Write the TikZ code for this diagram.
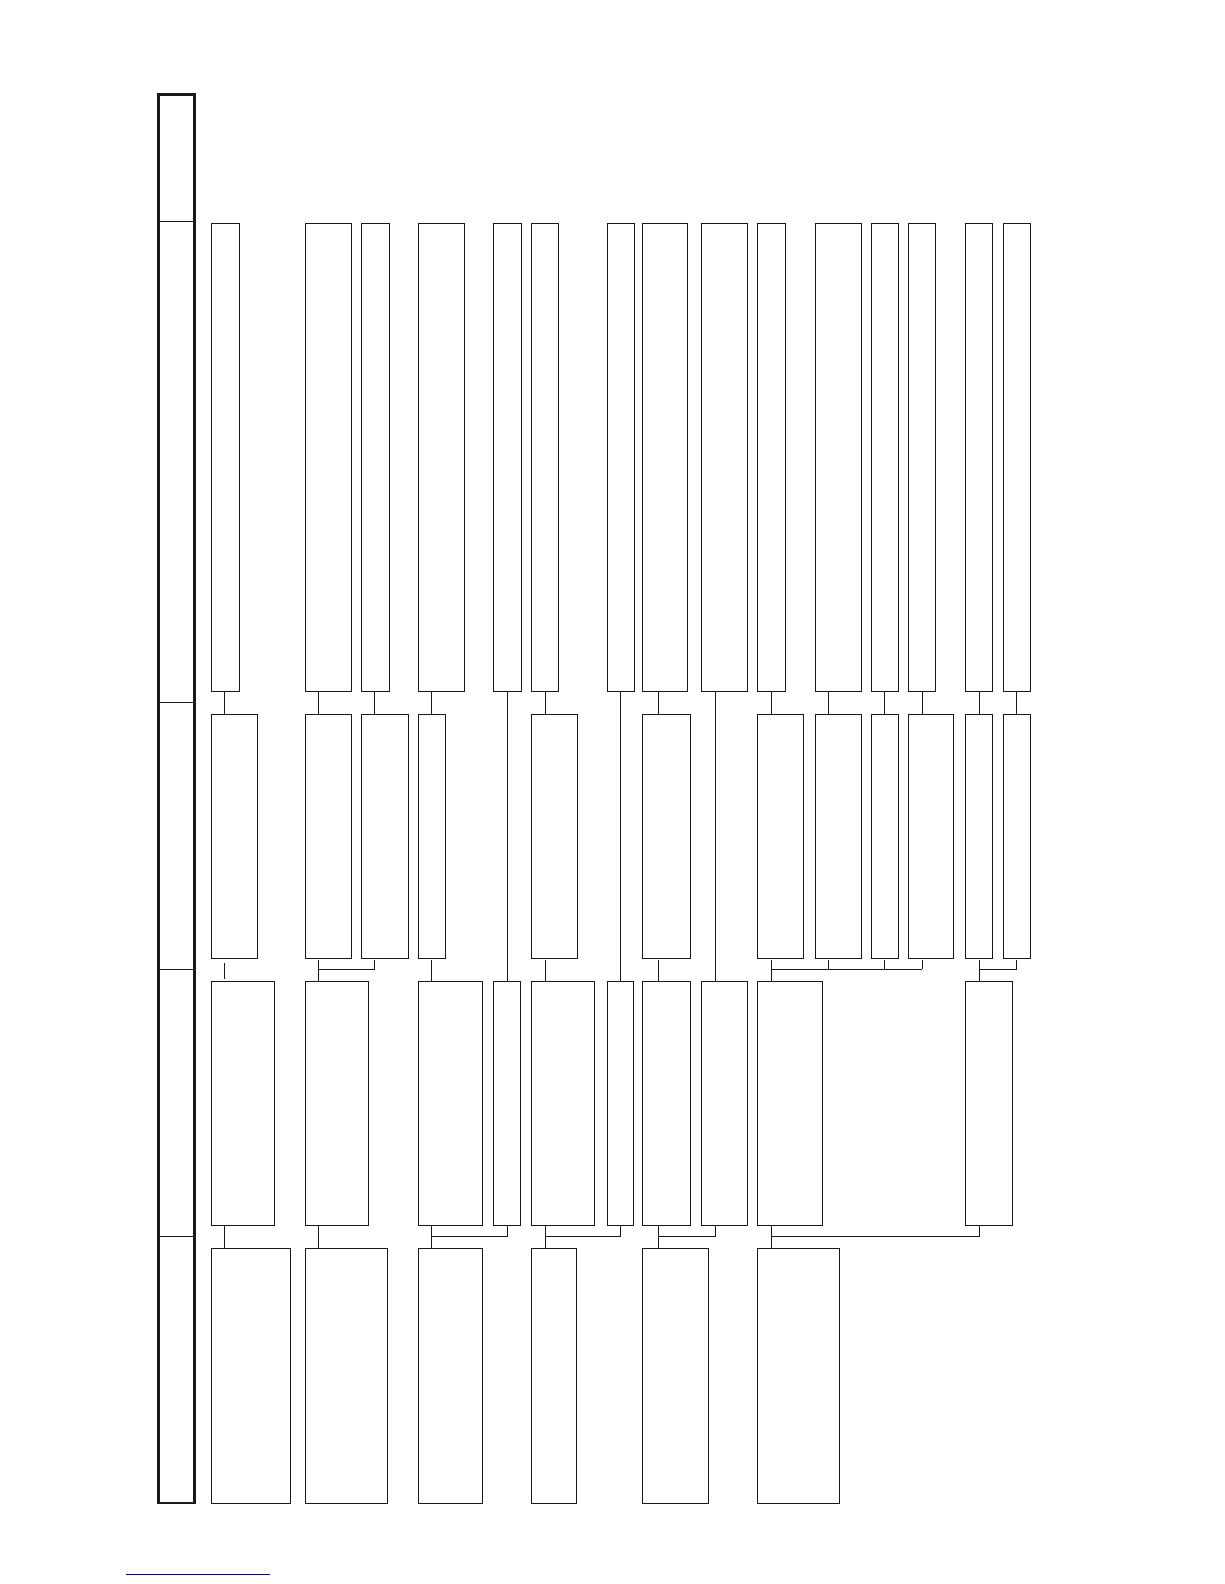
\documentclass[tikz,border=0pt]{standalone}
\begin{document}
\begin{tikzpicture}[x=1pt,y=-1pt,
  box/.style={draw=black!90,line width=1pt,inner sep=0pt,outer sep=0pt,anchor=north west,fill=white},
  conn/.style={draw=black!90,line width=1pt},
  band/.style={draw=black!90,line width=2.6pt,inner sep=0pt,outer sep=0pt,anchor=north west}]
\useasboundingbox (0,0) rectangle (1224,1584);
\newcommand\bx[5]{\node[box,minimum width={(#4-#2)*1pt},minimum height={(#5-#3)*1pt}] (#1) at (#2,#3) {};}
% left band
\node[band,minimum width=36pt,minimum height=1408.7pt] (lane) at (158.7,94.3) {};
\foreach \yy/\nm in {221/d1,702/d2,969/d3,1236/d4}{
  \coordinate (\nm) at (0,\yy);
  \draw[conn] (lane.west |- \nm) -- (lane.east |- \nm);
}
% row A
\foreach \n/\l/\r in {1/211/239,2/305/351,3/361/389,4/418/464,5/493/521,6/531/558,7/607/634,8/642/687,9/701/747,10/757/785,11/815/861,12/871/898,13/908/935,14/965/992,15/1003/1030}{
  \bx{a\n}{\l}{223}{\r}{691}
}
% row B
\foreach \n/\l/\r in {1/211/257,2/305/351,3/361/408,4/418/445,6/531/577,8/642/690,10/757/803,11/815/861,12/871/898,13/908/953,14/965/992,15/1003/1030}{
  \bx{b\n}{\l}{714}{\r}{958}
}
% row C
\foreach \n/\l/\r in {1/211/274,2/305/368,4/418/482,5/493/520,6/531/594,7/607/633,8/642/690,9/701/747,10/757/822,14/965/1012}{
  \bx{c\n}{\l}{981}{\r}{1225}
}
% row D
\foreach \n/\l/\r in {1/211/290,2/305/387,4/418/482,6/531/576,8/642/708,10/757/839}{
  \bx{d\n}{\l}{1248}{\r}{1503}
}
% connector x positions
\foreach \n/\xx in {1/224.5,2/318,3/374,4/431,5/507,6/545,7/620.5,8/658.5,9/715,10/771,11/828,12/884,13/922,14/979,15/1016}{
  \coordinate (x\n) at (\xx,0);
}
\coordinate (sBC) at (0,960);
\coordinate (hBC) at (0,969);
\coordinate (s1) at (0,963);
\coordinate (e1) at (0,979);
\coordinate (hCD) at (0,1236);
% A -> B
\foreach \n in {1,2,3,4,6,8,10,11,12,13,14,15}{
  \draw[conn] (a\n.south -| x\n) -- (b\n.north -| x\n);
}
% A -> C (long)
\foreach \n in {5,7,9}{
  \draw[conn] (a\n.south -| x\n) -- (c\n.north -| x\n);
}
% B -> C
\draw[conn] (s1 -| x1) -- (e1 -| x1);
\foreach \n in {4,6,8}{
  \draw[conn] (sBC -| x\n) -- (c\n.north -| x\n);
}
\draw[conn] (sBC -| x2) -- (c2.north -| x2);
\draw[conn] (sBC -| x3) |- (hBC -| x2);
\draw[conn] (sBC -| x10) -- (c10.north -| x10);
\draw[conn] (hBC -| x10) -- (hBC -| x13);
\foreach \n in {11,12,13}{
  \draw[conn] (sBC -| x\n) -- (hBC -| x\n);
}
\draw[conn] (sBC -| x14) -- (c14.north -| x14);
\draw[conn] (sBC -| x15) |- (hBC -| x14);
% C -> D
\foreach \n in {1,2,4,6,8,10}{
  \draw[conn] (c\n.south -| x\n) -- (d\n.north -| x\n);
}
\draw[conn] (c5.south -| x5) |- (hCD -| x4);
\draw[conn] (c7.south -| x7) |- (hCD -| x6);
\draw[conn] (c9.south -| x9) |- (hCD -| x8);
\draw[conn] (c14.south -| x14) |- (hCD -| x10);
% footer rule
\coordinate (fl) at (126,1574);
\coordinate (fr) at (270,1574);
\draw[blue!75!black,line width=0.8pt] (fl) -- (fr);
\end{tikzpicture}
\end{document}
